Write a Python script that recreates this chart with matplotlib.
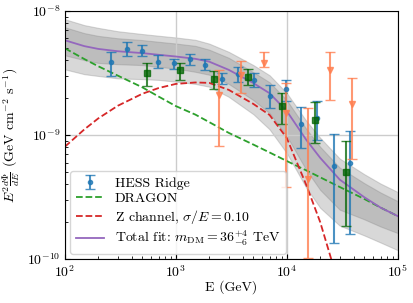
import matplotlib
matplotlib.use('Agg')
import matplotlib.pyplot as plt
from matplotlib.ticker import NullFormatter
import numpy as np

plt.rcParams['font.family'] = 'serif'
plt.rcParams['font.serif'] = ['cmr10']
plt.rcParams['mathtext.fontset'] = 'cm'
plt.rcParams['axes.formatter.use_mathtext'] = True

# model curves (GeV, GeV cm^-2 s^-1)
e_model = [100, 150, 200, 300, 500, 700, 1000, 1500, 2000, 3000, 5000, 7000,
           10000, 15000, 20000, 30000, 50000, 70000, 100000]
dragon = [5.00e-9, 4.09e-9, 3.58e-9, 3.01e-9, 2.42e-9, 2.04e-9, 1.71e-9, 1.46e-9,
          1.27e-9, 1.04e-9, 8.37e-10, 7.23e-10, 6.17e-10, 5.18e-10, 4.56e-10,
          3.81e-10, 3.05e-10, 2.60e-10, 2.22e-10]
total = [5.80e-9, 5.20e-9, 4.94e-9, 4.73e-9, 4.57e-9, 4.43e-9, 4.29e-9, 4.11e-9,
         3.90e-9, 3.35e-9, 2.62e-9, 2.17e-9, 1.56e-9, 9.13e-10, 6.55e-10,
         4.37e-10, 3.15e-10, 2.60e-10, 2.22e-10]
band1_hi = [7.38e-9, 6.62e-9, 6.29e-9, 6.02e-9, 5.82e-9, 5.64e-9, 5.46e-9, 5.23e-9,
            4.87e-9, 4.19e-9, 3.21e-9, 2.66e-9, 1.91e-9, 1.12e-9, 8.03e-10,
            5.46e-10, 4.09e-10, 3.44e-10, 2.93e-10]
band1_lo = [4.39e-9, 4.01e-9, 3.81e-9, 3.72e-9, 3.66e-9, 3.54e-9, 3.43e-9, 3.23e-9,
            3.06e-9, 2.58e-9, 1.91e-9, 1.50e-9, 9.80e-10, 5.22e-10, 3.61e-10,
            2.50e-10, 2.09e-10, 1.83e-10, 1.62e-10]
band2_hi = [8.57e-9, 7.68e-9, 7.30e-9, 6.86e-9, 6.51e-9, 6.31e-9, 6.11e-9, 5.85e-9,
            5.45e-9, 4.68e-9, 3.66e-9, 3.03e-9, 2.18e-9, 1.30e-9, 9.50e-10,
            6.46e-10, 4.83e-10, 4.06e-10, 3.47e-10]
band2_lo = [3.38e-9, 3.09e-9, 2.99e-9, 2.86e-9, 2.82e-9, 2.78e-9, 2.69e-9, 2.58e-9,
            2.45e-9, 2.03e-9, 1.47e-9, 1.11e-9, 7.15e-10, 3.75e-10, 2.59e-10,
            1.86e-10, 1.55e-10, 1.36e-10, 1.18e-10]

e_z = [100, 150, 200, 300, 500, 700, 1000, 1500, 2000, 3000, 5000, 7000,
       10000, 15000, 20000, 25000, 30000]
z_channel = [8.04e-10, 1.11e-9, 1.36e-9, 1.72e-9, 2.15e-9, 2.39e-9, 2.58e-9, 2.65e-9,
             2.63e-9, 2.31e-9, 1.78e-9, 1.45e-9, 9.46e-10, 3.95e-10, 1.99e-10,
             1.02e-10, 5.6e-11]

# HESS ridge
e_hess = [258, 360, 491, 689, 960, 1337, 1852, 2582, 3641, 5072, 7025, 9860,
          13560, 18830, 26500, 36980]
f_hess = [3.88e-9, 4.91e-9, 4.78e-9, 3.90e-9, 3.79e-9, 4.12e-9, 3.67e-9, 2.81e-9,
          3.12e-9, 2.78e-9, 2.08e-9, 2.34e-9, 1.23e-9, 1.37e-9, 5.65e-10, 5.98e-10]
hi_hess = [4.67e-9, 5.59e-9, 5.32e-9, 4.44e-9, 4.12e-9, 4.52e-9, 4.10e-9, 3.15e-9,
           3.52e-9, 3.18e-9, 2.53e-9, 2.76e-9, 1.68e-9, 1.87e-9, 1.02e-9, 1.08e-9]
lo_hess = [2.99e-9, 4.34e-9, 4.31e-9, 3.49e-9, 3.42e-9, 3.69e-9, 3.34e-9, 2.56e-9,
           2.69e-9, 2.42e-9, 1.66e-9, 1.87e-9, 7.85e-10, 9.10e-10, 1.34e-10, 1.58e-10]

# green squares
e_sq = [551, 1087, 2198, 4478, 9080, 18070, 34510]
f_sq = [3.15e-9, 3.32e-9, 2.81e-9, 2.92e-9, 1.71e-9, 1.32e-9, 5.06e-10]
hi_sq = [3.79e-9, 3.83e-9, 3.28e-9, 3.42e-9, 2.19e-9, 1.86e-9, 8.94e-10]
lo_sq = [2.48e-9, 2.78e-9, 2.35e-9, 2.52e-9, 1.22e-9, 8.57e-10, 1.85e-10]

# orange triangles
e_tri = [2455, 3908, 6209, 9795, 15560, 24770, 39080]
f_tri = [2.10e-9, 3.05e-9, 3.81e-9, 1.50e-9, 4.39e-10, 3.34e-9, 1.78e-9]
hi_tri = [3.32e-9, 3.95e-9, 4.67e-9, 2.61e-9, 1.64e-9, 4.64e-9, 2.87e-9]
lo_tri = [8.15e-10, 2.17e-9, 3.55e-9, 3.83e-10, 1.02e-10, 1.92e-9, 6.37e-10]


def yerr(f, lo, hi):
    f, lo, hi = np.array(f), np.array(lo), np.array(hi)
    return [f - lo, hi - f]


fig = plt.figure(figsize=(4.13, 3.03), dpi=100)
ax = fig.add_axes([0.157, 0.145, 0.806, 0.819])

ax.fill_between(e_model, band2_lo, band2_hi, color='gray', alpha=0.3, lw=0.8)
ax.fill_between(e_model, band1_lo, band1_hi, color='gray', alpha=0.3, lw=0.8)

ax.plot(e_model, dragon, color='tab:green', ls='--', lw=1.3, label='DRAGON')
ax.plot(e_z, z_channel, color='tab:red', ls='--', lw=1.3,
        label=r'Z channel, $\sigma/E = 0.10$')
ax.plot(e_model, total, color='tab:purple', lw=1.3,
        label=r'Total fit: $m_{\rm DM} = 36^{+4}_{-6}$ TeV')

ax.errorbar(e_hess, f_hess, yerr=yerr(f_hess, lo_hess, hi_hess), fmt='o', ms=3,
            color='tab:blue', alpha=0.8, capsize=3.5, elinewidth=1.5, label='HESS Ridge')
ax.errorbar(e_sq, f_sq, yerr=yerr(f_sq, lo_sq, hi_sq), fmt='s', ms=5,
            color='darkgreen', alpha=0.75, capsize=3.5, elinewidth=1.5)
ax.errorbar(e_tri, f_tri, yerr=yerr(f_tri, lo_tri, hi_tri), fmt='v', ms=5,
            color='coral', alpha=0.8, capsize=3.5, elinewidth=1.5)

ax.set_xscale('log')
ax.set_yscale('log')
ax.set_xlim(1e2, 1e5)
ax.set_ylim(1e-10, 1e-8)
ax.xaxis.set_minor_formatter(NullFormatter())
ax.yaxis.set_minor_formatter(NullFormatter())
ax.grid(True, which='major', color='0.8', lw=1)
ax.tick_params(which='both', direction='in', labelsize=10)
ax.set_xlabel('E (GeV)', fontsize=10, labelpad=0)
ax.set_ylabel(r'$E^2\frac{d\Phi}{dE}$ (GeV cm$^{-2}$ s$^{-1}$)', fontsize=10)
ax.yaxis.set_label_coords(-0.128, 0.5)

h, l = ax.get_legend_handles_labels()
order = [3, 0, 1, 2]
ax.legend([h[i] for i in order], [l[i] for i in order], loc='lower left',
          fontsize=10, labelspacing=0.2, borderaxespad=0.4)

fig.savefig('out.png', dpi=100)
